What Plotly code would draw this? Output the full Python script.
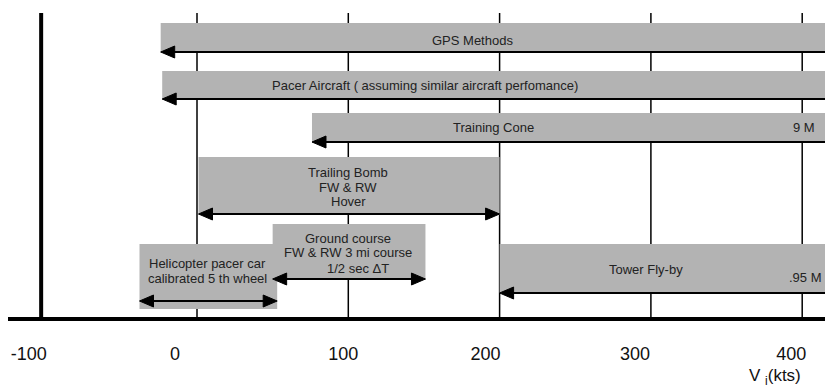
import plotly.graph_objects as go

# speed range (kts) covered by each airspeed calibration method
methods = ["GPS Methods", "Pacer Aircraft", "Training Cone", "Trailing Bomb",
           "Ground course", "Helicopter pacer car", "Tower Fly-by"]
label_lines = [
    ["GPS Methods"],
    ["Pacer Aircraft ( assuming similar aircraft perfomance)"],
    ["Training Cone"],
    ["Trailing Bomb", "FW & RW", "Hover"],
    ["Ground course", "FW & RW 3 mi course", "1/2 sec \u0394T"],
    ["Helicopter pacer car", "calibrated 5 th wheel"],
    ["Tower Fly-by"],
]
speed_min = [-24, -23, 76, 1, 50, -38, 200]
speed_max = [426, 426, 426, 200, 151, 53, 426]
mach_notes = ["", "", "9 M", "", "", "", ".95 M"]
mach_note_speed = [None, None, 401, None, None, None, 402]
tick_values = [-100, 0, 100, 200, 300, 400]

# layout of the drawing, in page pixels (the page body adds an 8px margin)
PAGE_OFF = 8
PX_PER_KT = 1.513
X_ZERO_PX = 197
PAGE_W, PAGE_H = 833, 390
W, H = PAGE_W - PAGE_OFF, PAGE_H - PAGE_OFF
TOP, BOTTOM = 13, 319
bar_top = [23, 71, 113, 157, 224, 244, 244]
bar_bottom = [53, 100, 143, 215, 280, 309, 293]
arrow_y = [52, 99, 142, 214, 279, 301, 293]
label_x = [182, 151, 196, 100, 100, 7, 297]
label_y = [[40], [85.5], [127], [172, 187, 201.5], [238, 252.5, 268], [263, 278], [269.5]]
label_xshift = [[0], [0], [0], [0, 0, 0], [0, 0, 10], [0, 0], [0]]
note_y = [None, None, 127, None, None, None, 277.5]
tick_label_dx = [-17, -22, -5, -14, -16, -11]  # px offset of labels from grid lines
AXIS_SPEED = -103

BAR_COLOR = "#b3b3b3"
FONT = "Arial, 'Liberation Sans', sans-serif"
HEAD_LEN = 14 / PX_PER_KT
HEAD_HALF = 6

fig = go.Figure()

fig.add_trace(go.Bar(
    orientation="h",
    y=[(t + b) / 2 for t, b in zip(bar_top, bar_bottom)],
    width=[b - t for t, b in zip(bar_top, bar_bottom)],
    base=speed_min,
    x=[hi - lo for lo, hi in zip(speed_min, speed_max)],
    marker=dict(color=BAR_COLOR, line=dict(width=0)),
    hoverinfo="skip",
    showlegend=False,
))

shaft_x, shaft_y, head_x, head_y = [], [], [], []
for lo, hi, y in zip(speed_min, speed_max, arrow_y):
    shaft_x += [lo + HEAD_LEN / 2, hi - HEAD_LEN / 2, None]
    shaft_y += [y, y, None]
    head_x += [lo, lo + HEAD_LEN, lo + HEAD_LEN, lo, None,
               hi, hi - HEAD_LEN, hi - HEAD_LEN, hi, None]
    head_y += [y, y - HEAD_HALF, y + HEAD_HALF, y, None,
               y, y - HEAD_HALF, y + HEAD_HALF, y, None]

fig.add_trace(go.Scatter(x=shaft_x, y=shaft_y, mode="lines",
                         line=dict(color="black", width=2),
                         hoverinfo="skip", showlegend=False))
fig.add_trace(go.Scatter(x=head_x, y=head_y, mode="lines", fill="toself",
                         fillcolor="black", line=dict(color="black", width=1),
                         hoverinfo="skip", showlegend=False))

for i, lines in enumerate(label_lines):
    for txt, y, dx in zip(lines, label_y[i], label_xshift[i]):
        fig.add_annotation(x=label_x[i], y=y, text=txt, showarrow=False,
                           xshift=dx, font=dict(size=13, color="#222"))
    if mach_notes[i]:
        fig.add_annotation(x=mach_note_speed[i], y=note_y[i], text=mach_notes[i],
                           showarrow=False, font=dict(size=13, color="#222"))

fig.add_annotation(xref="paper", yref="paper", xanchor="center", yanchor="middle",
                   x=(775 - PAGE_OFF) / W, y=(BOTTOM - 377) / (BOTTOM - TOP),
                   text="V <sub>i</sub>(kts)", showarrow=False,
                   font=dict(size=17, color="#111"))

# grid lines (under the bars) and heavy axis lines
for v in tick_values[1:]:
    fig.add_shape(type="line", xref="x", yref="paper", x0=v, x1=v, y0=0, y1=1,
                  layer="below", line=dict(color="black", width=1.5))
fig.add_shape(type="line", xref="paper", yref="paper", x0=0, x1=1, y0=0, y1=0,
              line=dict(color="black", width=4))
fig.add_shape(type="line", xref="x", yref="paper", x0=AXIS_SPEED, x1=AXIS_SPEED, y0=0, y1=1,
              line=dict(color="black", width=4))

fig.update_layout(
    width=W, height=H,
    margin=dict(l=0, r=0, t=TOP - PAGE_OFF, b=PAGE_H - BOTTOM),
    plot_bgcolor="white", paper_bgcolor="white",
    font=dict(family=FONT, color="#111"),
    xaxis=dict(
        range=[(PAGE_OFF - X_ZERO_PX) / PX_PER_KT, (PAGE_W - X_ZERO_PX) / PX_PER_KT],
        tickvals=[v + dx / PX_PER_KT for v, dx in zip(tick_values, tick_label_dx)],
        ticktext=[str(v) for v in tick_values],
        showgrid=False, zeroline=False, showline=False, ticks="",
        tickfont=dict(size=18, color="#111"),
        ticklabelstandoff=22,
        fixedrange=True,
    ),
    yaxis=dict(range=[BOTTOM, TOP], visible=False, showgrid=False, fixedrange=True),
    showlegend=False,
)

fig.write_html("out.html")
